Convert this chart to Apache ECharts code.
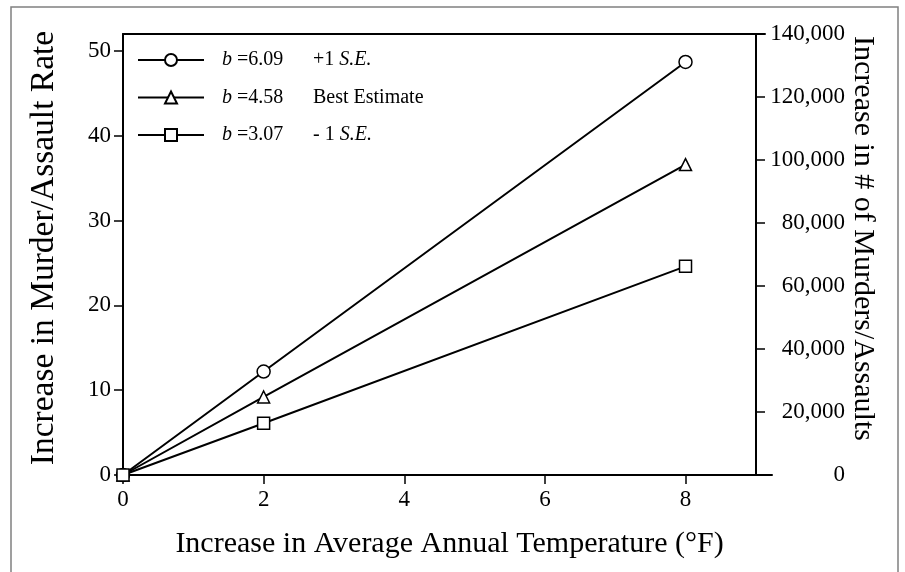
<!DOCTYPE html>
<html>
<head>
<meta charset="utf-8">
<script src="https://cdn.jsdelivr.net/npm/echarts@6/dist/echarts.min.js"></script>
<style>
    html, body { margin: 0; padding: 0; background: #fff; }
    #chart { width: 905px; height: 572px; }
</style>
</head>
<body>
<div id="chart"></div>
<script>
// temperature increase (°F) at which the estimates are given
var tempSteps = [0, 2, 8];
// increase in murder/assault rate for each slope
var upperSE = [0, 12.2, 48.7];   // b = 6.09, +1 S.E.
var bestEst = [0, 9.2, 36.6];    // b = 4.58, best estimate
var lowerSE = [0, 6.1, 24.6];    // b = 3.07, -1 S.E.

var seriesNames = ['b =6.09', 'b =4.58', 'b =3.07'];
var slopeLabels = ['6.09', '4.58', '3.07'];
var noteLabels = ['+1 ', 'Best Estimate', '- 1 '];
var noteItalic = ['S.E.', '', 'S.E.'];

var xTicks = [0, 2, 4, 6, 8];
var rateTicks = [0, 10, 20, 30, 40, 50];

var FONT = "'Liberation Serif', 'Times New Roman', serif";

function toPoints(values) {
    return tempSteps.map(function (t, i) { return [t, values[i]]; });
}

/**
 * 折线 series
 */
function makeSeries(name, values, symbol, size) {
    return {
        name: name,
        type: 'line',
        xAxisIndex: 0,
        yAxisIndex: 0,
        data: toPoints(values),
        symbol: symbol,
        symbolSize: size,
        showAllSymbol: true,
        lineStyle: { color: '#000', width: 2 },
        itemStyle: { color: '#fff', borderColor: '#000', borderWidth: 1.5 },
        emphasis: { disabled: true }
    };
}

var option = {
    animation: false,
    backgroundColor: '#fff',
    textStyle: { fontFamily: FONT, color: '#000' },
    grid: [
        {
            // the x axis runs a little past the right axis
            left: 123,
            top: 34,
            right: 133,
            bottom: 97,
            outerBoundsMode: 'none'
        },
        {
            // only used for the top frame line
            left: 123,
            top: 34,
            right: 140,
            bottom: 97,
            outerBoundsMode: 'none'
        }
    ],
    legend: {
        orient: 'vertical',
        left: 137,
        top: 50,
        padding: 0,
        itemWidth: 66,
        itemHeight: 15,
        itemGap: 17.5,
        selectedMode: false,
        data: seriesNames,
        formatter: function (name) {
            var i = seriesNames.indexOf(name);
            return '{bi|b}{v| =' + slopeLabels[i] + '}{t|' + noteLabels[i] + '}{ti|' + noteItalic[i] + '}';
        },
        textStyle: {
            fontFamily: FONT,
            fontSize: 20,
            color: '#000',
            rich: {
                bi: { fontFamily: FONT, fontSize: 20, fontStyle: 'italic', padding: [0, 0, 0, 13] },
                v: { fontFamily: FONT, fontSize: 20, width: 81 },
                t: { fontFamily: FONT, fontSize: 20 },
                ti: { fontFamily: FONT, fontSize: 20, fontStyle: 'italic' }
            }
        }
    },
    xAxis: [
        {
            type: 'value',
            gridIndex: 0,
            position: 'bottom',
            min: 0,
            max: 9.23,
            name: 'Increase in Average Annual Temperature (°F)',
            nameLocation: 'middle',
            nameGap: 54,
            nameMoveOverlap: false,
            nameTextStyle: { fontFamily: FONT, fontSize: 30, color: '#000', padding: [0, 0, 0, 4] },
            axisLine: { show: true, onZero: false, lineStyle: { color: '#000', width: 2 } },
            axisTick: { show: true, inside: false, length: 9, customValues: xTicks, lineStyle: { color: '#000', width: 1.5 } },
            axisLabel: { customValues: xTicks, fontFamily: FONT, fontSize: 23, color: '#000', margin: 13 },
            splitLine: { show: false }
        },
        {
            // top frame line
            type: 'value',
            gridIndex: 1,
            position: 'top',
            min: 0,
            max: 9,
            axisLine: { show: true, onZero: false, lineStyle: { color: '#000', width: 2 } },
            axisTick: { show: false },
            axisLabel: { show: false },
            splitLine: { show: false }
        }
    ],
    yAxis: [
        {
            type: 'value',
            gridIndex: 0,
            position: 'left',
            min: 0,
            max: 52,
            interval: 10,
            name: 'Increase in Murder/Assault Rate',
            nameLocation: 'middle',
            nameGap: 62,
            nameMoveOverlap: false,
            nameTextStyle: { fontFamily: FONT, fontSize: 33.5, color: '#000', padding: [0, 0, 0, 13] },
            axisLine: { show: true, onZero: false, lineStyle: { color: '#000', width: 2 } },
            axisTick: { show: true, inside: false, length: 9, customValues: rateTicks, lineStyle: { color: '#000', width: 1.5 } },
            axisLabel: { customValues: rateTicks, fontFamily: FONT, fontSize: 23, color: '#000', margin: 12 },
            splitLine: { show: false }
        },
        {
            type: 'value',
            gridIndex: 0,
            position: 'right',
            offset: -16,
            min: 0,
            max: 140000,
            interval: 20000,
            name: 'Increase in # of Murders/Assaults',
            nameLocation: 'middle',
            nameRotate: -90,
            nameGap: 92,
            nameMoveOverlap: false,
            nameTextStyle: { fontFamily: FONT, fontSize: 30, color: '#000', padding: [0, 32, 0, 0] },
            axisLine: { show: true, onZero: false, lineStyle: { color: '#000', width: 2 } },
            axisTick: { show: true, inside: false, length: 9, lineStyle: { color: '#000', width: 1.5 } },
            axisLabel: {
                fontFamily: FONT,
                fontSize: 23,
                color: '#000',
                align: 'right',
                margin: 89,
                formatter: function (v) { return v.toLocaleString('en-US'); }
            },
            splitLine: { show: false }
        },
        {
            // dummy axis for the frame grid
            type: 'value',
            gridIndex: 1,
            min: 0,
            max: 1,
            show: false
        }
    ],
    graphic: [
        {
            type: 'rect',
            silent: true,
            z: -1,
            shape: { x: 11, y: 7, width: 887, height: 600 },
            style: { fill: 'none', stroke: '#808080', lineWidth: 1.5 }
        }
    ],
    series: [
        makeSeries(seriesNames[0], upperSE, 'circle', 13),
        makeSeries(seriesNames[1], bestEst, 'triangle', 12),
        makeSeries(seriesNames[2], lowerSE, 'rect', 12)
    ]
};

var chart = echarts.init(document.getElementById('chart'), null, { renderer: 'canvas' });
chart.setOption(option);
</script>
</body>
</html>
